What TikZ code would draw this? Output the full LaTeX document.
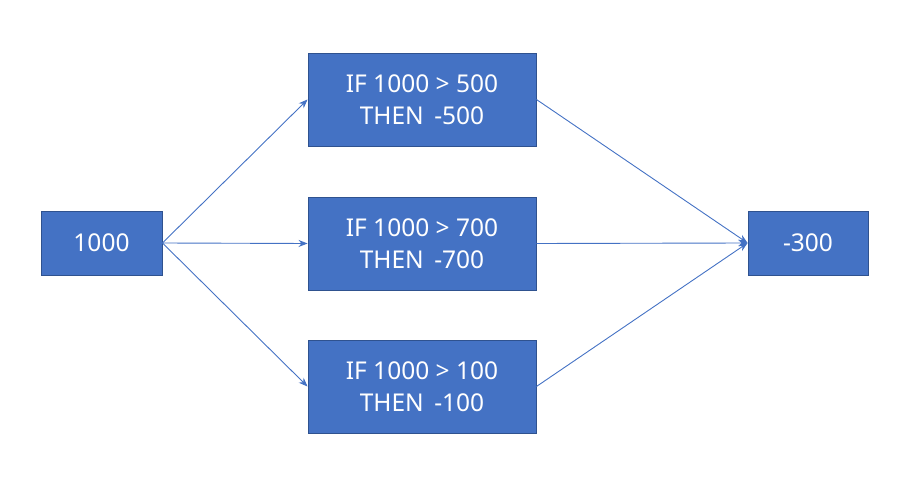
\documentclass[tikz,border=0pt]{standalone}
\usepackage{fontspec}
\setmainfont{Noto Sans}
\usetikzlibrary{arrows.meta}
\definecolor{boxfill}{HTML}{4472C4}
\definecolor{boxline}{HTML}{2F528F}
\begin{document}
\begin{tikzpicture}[x=1pt,y=1pt,
  box/.style={draw=boxline,line width=0.9pt,fill=boxfill,text=white,align=center,
    inner sep=0pt,font=\fontsize{24.5}{32}\selectfont},
  conn/.style={draw=boxfill,line width=0.9pt,-{Stealth[length=9pt,width=7pt]}}]
\useasboundingbox (0,0) rectangle (900,485);
\node[box,minimum width=121pt,minimum height=64pt] (a) at (101.5,242) {1000};
\node[box,minimum width=228pt,minimum height=93pt] (t) at (422,385.5) {IF 1000 \textgreater{} 500\\THEN \,-500};
\node[box,minimum width=228pt,minimum height=93pt] (m) at (422,241.5) {IF 1000 \textgreater{} 700\\THEN \,-700};
\node[box,minimum width=228pt,minimum height=93pt] (b) at (422,98.5) {IF 1000 \textgreater{} 100\\THEN \,-100};
\node[box,minimum width=120pt,minimum height=64pt] (r) at (808,242) {-300};
\draw[conn] (a.east) -- (t.west);
\draw[conn] (a.east) -- (m.west);
\draw[conn] (a.east) -- (b.west);
\draw[conn] (t.east) -- (r.west);
\draw[conn] (m.east) -- (r.west);
\draw[conn] (b.east) -- (r.west);
\end{tikzpicture}
\end{document}
